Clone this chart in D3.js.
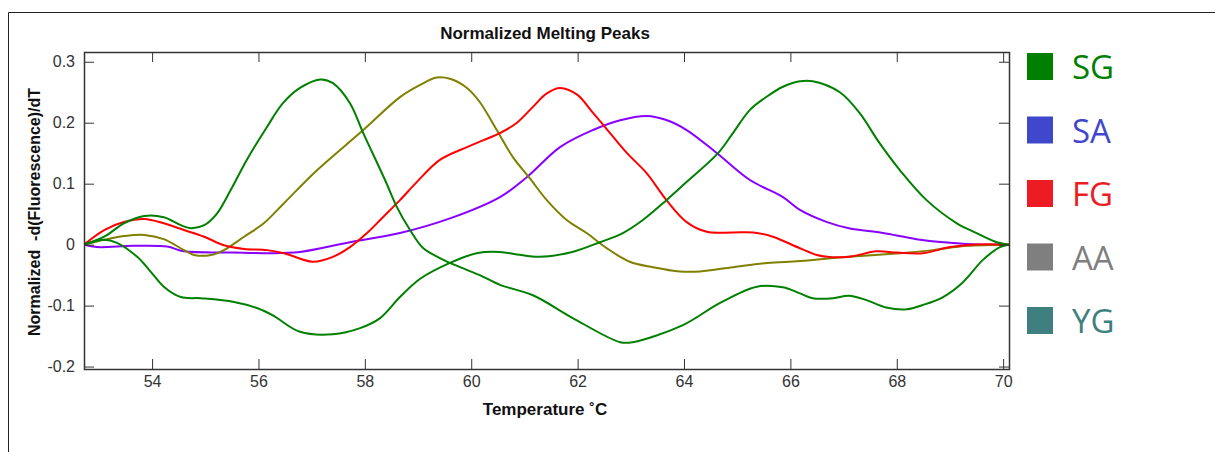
<!DOCTYPE html>
<html><head><meta charset="utf-8">
<script src="https://cdn.jsdelivr.net/npm/d3@7"></script>
<style>
html,body{margin:0;padding:0;background:#fff;}
svg{display:block;}
</style></head>
<body>
<svg id="chart" width="1215" height="452"></svg>
<script>
// ---------- data ----------
const chartTitle = "Normalized Melting Peaks";
const xTitle = "Temperature \u02DAC";
const yTitle = "Normalized  -d(Fluorescence)/dT";
const xTicks = [54, 56, 58, 60, 62, 64, 66, 68, 70];
const yTicks = [0.3, 0.2, 0.1, 0, -0.1, -0.2];
const yTickLabels = ["0.3", "0.2", "0.1", "0", "-0.1", "-0.2"];
const legendLabels = ["SG", "SA", "FG", "AA", "YG"];
const legendColors = ["#008000", "#3f48cc", "#ed1c24", "#7f7f7f", "#407f80"];

const greenATemps = [52.72,53.1,53.47,53.85,54.22,54.54,54.73,54.98,55.22,55.48,55.78,56.16,56.46,56.78,57.16,57.4,57.72,57.97,58.38,58.6,58.85,59.09,59.41,59.79,60.16,60.54,61.16,61.9,62.8,63.04,63.98,64.67,65.37,65.86,66.18,66.42,66.8,67.1,67.43,67.8,68.19,68.49,68.87,69.24,69.62,69.94,70.11];
const greenAValues = [0,0.013,0.035,0.047,0.045,0.032,0.027,0.032,0.051,0.09,0.139,0.193,0.232,0.257,0.271,0.265,0.232,0.183,0.106,0.062,0.024,-0.005,-0.022,-0.037,-0.05,-0.066,-0.083,-0.12,-0.16,-0.16,-0.132,-0.096,-0.069,-0.07,-0.08,-0.088,-0.088,-0.084,-0.091,-0.103,-0.106,-0.099,-0.086,-0.062,-0.025,-0.004,0];

const greenBTemps = [52.72,53.1,53.34,53.72,53.98,54.22,54.54,54.92,55.54,55.97,56.27,56.78,57.4,57.91,58.28,58.66,59.04,59.6,60.1,60.54,60.86,61.29,61.9,62.42,62.85,63.22,63.67,64.0,64.64,64.92,65.24,65.56,65.86,66.18,66.42,66.93,67.3,67.68,68.06,68.56,69.13,69.5,69.88,70.11];
const greenBValues = [0,0.008,0.003,-0.02,-0.045,-0.069,-0.086,-0.088,-0.094,-0.104,-0.116,-0.143,-0.147,-0.137,-0.121,-0.086,-0.056,-0.03,-0.014,-0.012,-0.016,-0.02,-0.012,0.004,0.019,0.04,0.073,0.099,0.15,0.183,0.221,0.243,0.259,0.268,0.268,0.25,0.216,0.166,0.122,0.073,0.035,0.019,0.004,0];

const oliveTemps = [52.72,53.1,53.47,53.85,54.22,54.6,54.79,55.11,55.35,55.73,56.1,56.48,57.1,57.97,58.66,59.04,59.35,59.6,59.92,60.16,60.48,60.78,61.1,61.42,61.8,62.17,62.55,62.98,63.42,63.92,64.3,64.92,65.56,66.18,67.1,68.06,68.68,69.32,70.11];
const oliveValues = [0,0.008,0.014,0.016,0.009,-0.009,-0.017,-0.017,-0.009,0.013,0.035,0.068,0.122,0.188,0.242,0.262,0.274,0.272,0.257,0.234,0.188,0.144,0.109,0.073,0.04,0.019,-0.006,-0.028,-0.037,-0.044,-0.044,-0.037,-0.03,-0.027,-0.02,-0.014,-0.009,-0.002,0];

const redTemps = [52.72,53.1,53.47,53.85,54.22,54.6,54.98,55.35,55.73,56.16,56.48,57.02,57.4,57.72,58.04,58.34,58.66,58.98,59.41,59.92,60.22,60.54,60.86,61.16,61.42,61.67,61.99,62.29,62.61,62.93,63.3,63.67,64.05,64.43,64.92,65.3,65.67,66.18,66.5,66.69,67.1,67.62,68.0,68.49,69.0,69.43,70.11];
const redValues = [0,0.024,0.037,0.042,0.035,0.024,0.013,-0.001,-0.007,-0.009,-0.014,-0.028,-0.02,-0.004,0.019,0.045,0.073,0.103,0.139,0.16,0.171,0.183,0.2,0.226,0.248,0.257,0.246,0.216,0.183,0.15,0.117,0.073,0.037,0.021,0.02,0.02,0.013,-0.006,-0.017,-0.02,-0.02,-0.011,-0.013,-0.014,-0.004,0,0];

const purpleTemps = [52.72,52.96,53.64,54.28,54.6,55.52,56.16,56.78,57.72,58.66,59.6,60.54,61.05,61.67,62.29,62.8,63.3,63.68,64.05,64.62,65.24,65.86,66.18,66.69,67.1,67.74,68.37,69.0,69.62,70.11];
const purpleValues = [0,-0.004,-0.002,-0.003,-0.011,-0.013,-0.014,-0.012,0.004,0.019,0.043,0.078,0.111,0.16,0.188,0.204,0.211,0.204,0.188,0.15,0.106,0.078,0.057,0.037,0.027,0.019,0.009,0.003,0,0];

const seriesNames = ["purple", "olive", "red", "greenB", "greenA"];
const seriesColors = ["#8800ff", "#808000", "#ff0000", "#008000", "#008000"];
const seriesTemps = [purpleTemps, oliveTemps, redTemps, greenBTemps, greenATemps];
const seriesValues = [purpleValues, oliveValues, redValues, greenBValues, greenAValues];

// ---------- layout ----------
const svg = d3.select("#chart");
const plot = {left: 84, top: 52, right: 1009, bottom: 369};
const x = d3.scaleLinear().domain([52.72, 70.11]).range([plot.left, plot.right]);
const y = d3.scaleLinear().domain([-0.204, 0.316]).range([plot.bottom, plot.top]);

// outer frame
svg.append("path").attr("d", "M8.5,452 L8.5,12.5 L1215,12.5")
  .attr("fill", "none").attr("stroke", "#222").attr("stroke-width", 1);

const boldFont = "Liberation Sans, Arial, sans-serif";
const tickFont = "Liberation Sans, Arial, sans-serif";

// title
svg.append("text").attr("x", 545).attr("y", 39).attr("text-anchor", "middle")
  .attr("font-family", boldFont).attr("font-weight", "bold")
  .attr("font-size", 17).attr("fill", "#111").text(chartTitle);

// clip
svg.append("clipPath").attr("id", "clip").append("rect")
  .attr("x", plot.left).attr("y", plot.top)
  .attr("width", plot.right - plot.left).attr("height", plot.bottom - plot.top);

// lines
const line = d3.line().x(d => x(d[0])).y(d => y(d[1])).curve(d3.curveCatmullRom.alpha(0.5));
const g = svg.append("g").attr("clip-path", "url(#clip)");
seriesNames.forEach((name, i) => {
  const pts = seriesTemps[i].map((t, j) => [t, seriesValues[i][j]]);
  g.append("path").datum(pts).attr("d", line)
    .attr("fill", "none").attr("stroke", seriesColors[i]).attr("stroke-width", 2)
    .attr("stroke-linejoin", "round");
});

// axes
const axisColor = "#333";
function styleAxis(sel) {
  sel.select(".domain").remove();
  sel.selectAll(".tick line").attr("stroke", axisColor);
  sel.selectAll(".tick text").attr("font-family", tickFont).attr("font-size", 16).attr("fill", "#333");
}
const gx = svg.append("g").attr("transform", `translate(0,${plot.bottom})`)
  .call(d3.axisBottom(x).tickValues(xTicks).tickFormat(d3.format("d")).tickSizeInner(-10).tickSizeOuter(0).tickPadding(7));
styleAxis(gx);
const gxt = svg.append("g").attr("transform", `translate(0,${plot.top})`)
  .call(d3.axisTop(x).tickValues(xTicks).tickFormat("").tickSizeInner(-10).tickSizeOuter(0));
styleAxis(gxt);
const gy = svg.append("g").attr("transform", `translate(${plot.left},0)`)
  .call(d3.axisLeft(y).tickValues(yTicks).tickFormat((d, i) => yTickLabels[i]).tickSizeInner(-10).tickSizeOuter(0).tickPadding(9));
styleAxis(gy);
const gyr = svg.append("g").attr("transform", `translate(${plot.right},0)`)
  .call(d3.axisRight(y).tickValues(yTicks).tickFormat("").tickSizeInner(-10).tickSizeOuter(0));
styleAxis(gyr);

// plot border
svg.append("rect").attr("x", plot.left + 0.5).attr("y", plot.top + 0.5)
  .attr("width", plot.right - plot.left).attr("height", plot.bottom - plot.top)
  .attr("fill", "none").attr("stroke", axisColor).attr("stroke-width", 1.5);

// axis titles
svg.append("text").attr("x", 545).attr("y", 415).attr("text-anchor", "middle")
  .attr("font-family", boldFont).attr("font-weight", "bold").attr("font-size", 17)
  .attr("fill", "#111").text(xTitle);
svg.append("text").attr("transform", `translate(40,212) rotate(-90)`)
  .attr("text-anchor", "middle").attr("font-family", boldFont).attr("font-weight", "bold")
  .attr("font-size", 16).attr("fill", "#111").style("white-space", "pre").text(yTitle);

// legend
const ly = d3.scalePoint().domain(legendLabels).range([66, 320]);
const lg = svg.append("g");
legendLabels.forEach((lab, i) => {
  lg.append("rect").attr("x", 1027).attr("y", ly(lab) - 13).attr("width", 26).attr("height", 27)
    .attr("fill", legendColors[i]);
  lg.append("text").attr("x", 1072).attr("y", ly(lab) + 13)
    .attr("font-family", "Open Sans, Noto Sans, sans-serif").attr("font-size", 33)
    .attr("fill", legendColors[i]).text(lab);
});
</script>
</body></html>
